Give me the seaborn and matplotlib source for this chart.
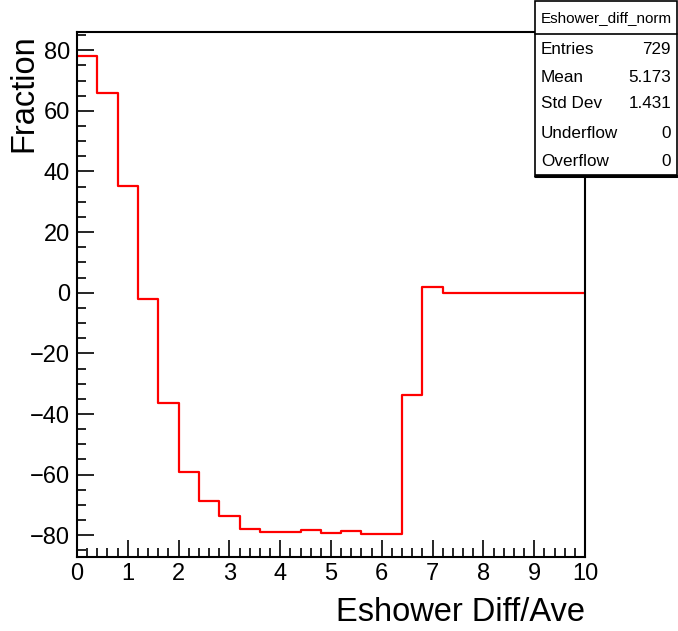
import numpy as np
import pandas as pd
import matplotlib
matplotlib.use("Agg")
import matplotlib.pyplot as plt
import seaborn as sns
from matplotlib.patches import Rectangle
from matplotlib.lines import Line2D
from matplotlib.ticker import MultipleLocator

# ------------------------------------------
# Data (bin contents)
# ------------------------------------------

x_range = (0, 10)
bin_values = [78, 66, 35.3, -2, -36.3, -59, -68.6, -73.6, -78, -79,
              -79, -78.3, -79.3, -78.6, -79.6, -79.6, -33.7, 2,
              0, 0, 0, 0, 0, 0, 0]

stats_title = "Eshower_diff_norm"
stats_names = ["Entries", "Mean", "Std Dev", "Underflow", "Overflow"]
stats_values = ["729", "5.173", "1.431", "0", "0"]

n_bins = len(bin_values)
bin_edges = np.linspace(x_range[0], x_range[1], n_bins + 1)
df = pd.DataFrame({
    "x": (bin_edges[:-1] + bin_edges[1:]) / 2,
    "w": bin_values,
})

# ------------------------------------------
# Plot
# ------------------------------------------

sns.set_style("white")
plt.rcParams['font.family'] = ['Liberation Sans', 'DejaVu Sans']
plt.rcParams['text.color'] = 'black'
plt.rcParams['axes.labelcolor'] = 'black'
plt.rcParams['xtick.color'] = 'black'
plt.rcParams['ytick.color'] = 'black'

W, H = 678, 631
fig = plt.figure(figsize=(W / 100, H / 100), dpi=100)
ax = fig.add_axes([77 / W, 1 - 556.5 / H, (585 - 77) / W, (556.5 - 32) / H])

sns.histplot(data=df, x="x", weights="w", bins=n_bins, binrange=x_range,
             element="step", fill=False, color="red", linewidth=1.6, ax=ax)

ax.set_xlim(0, 10)
ax.set_ylim(-87, 86)

ax.xaxis.set_major_locator(MultipleLocator(1))
ax.xaxis.set_minor_locator(MultipleLocator(0.2))
ax.yaxis.set_major_locator(MultipleLocator(20))
ax.yaxis.set_minor_locator(MultipleLocator(5))
ax.tick_params(which="both", direction="in", top=False, right=False,
               bottom=True, left=True,
               labelsize=17, color="black", width=1.2, pad=5)
ax.tick_params(which="major", length=12)
ax.tick_params(which="minor", length=6.5)

for sp in ax.spines.values():
    sp.set_color("black")
    sp.set_linewidth(1.5)

ax.set_xlabel("Eshower Diff/Ave", fontsize=23.5, loc="right", labelpad=8)
ax.set_ylabel("Fraction", fontsize=23.5, loc="top")
ax.yaxis.set_label_coords((39 - 77) / 508, 0.995)

# ------------------------------------------
# Stats box
# ------------------------------------------

bx0, by0, bx1, by1 = 535 / W, 1 - 175 / H, 677 / W, 1 - 1 / H
fig.patches.append(Rectangle((bx0, by0), bx1 - bx0, by1 - by0,
                             transform=fig.transFigure, facecolor="white",
                             edgecolor="black", linewidth=1.2, zorder=5))
fig.lines.append(Line2D([bx0, bx1], [by0 - 0.5 / H, by0 - 0.5 / H],
                        transform=fig.transFigure, color="black",
                        linewidth=2.2, zorder=6))
fig.lines.append(Line2D([bx0, bx1], [1 - 34 / H, 1 - 34 / H],
                        transform=fig.transFigure, color="black",
                        linewidth=1.2, zorder=6))
fig.text((bx0 + bx1) / 2, 1 - 18 / H, stats_title, fontsize=11,
         ha="center", va="center", zorder=7)
row_y = [50, 77, 104, 134, 161]
for name, val, yy in zip(stats_names, stats_values, row_y):
    fig.text(541 / W, 1 - yy / H, name, fontsize=12.3, ha="left",
             va="center", zorder=7)
    fig.text(671 / W, 1 - yy / H, val, fontsize=12.3, ha="right",
             va="center", zorder=7)

plt.savefig("out.png", dpi=100)
